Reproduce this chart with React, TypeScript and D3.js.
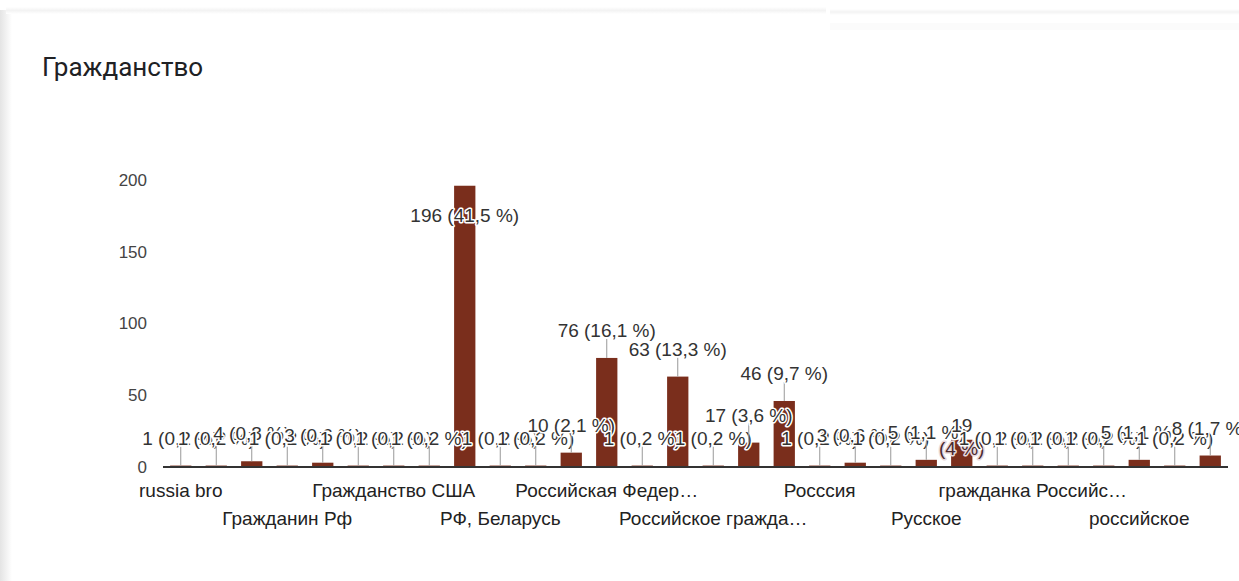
import React from "react";
import * as d3 from "d3";

const TITLE = "Гражданство";

// 30 answer categories (only every third label is drawn on the axis, as in the reference)
const categories: string[] = [
  "russia bro", "категория 2", "категория 3",
  "Гражданин Рф", "категория 5", "категория 6",
  "Гражданство США", "категория 8", "категория 9",
  "РФ, Беларусь", "категория 11", "категория 12",
  "Российская Федерация", "категория 14", "категория 15",
  "Российское гражданство", "категория 17", "категория 18",
  "Росссия", "категория 20", "категория 21",
  "Русское", "категория 23", "категория 24",
  "гражданка Российской Федерации", "категория 26", "категория 27",
  "российское", "категория 29", "категория 30",
];

const counts: number[] = [
  1, 1, 4, 1, 3, 1, 1, 1, 196, 1,
  1, 10, 76, 1, 63, 1, 17, 46, 1, 3,
  1, 5, 19, 1, 1, 1, 1, 5, 1, 8,
];

const yTicks: number[] = [0, 50, 100, 150, 200];

// annotations that the chart wraps onto two lines (category indices)
const wrappedAnnotations: number[] = [22];

const W = 1239;
const H = 581;
const PLOT_LEFT = 163;
const PLOT_RIGHT = 1228;
const BASE_Y = 467;
const TOP_Y = 180;
const BAR_COLOR = "#7a2e1c";
const FONT = "Arial, 'Liberation Sans', sans-serif";
const CAT_FONT = 19;

let measureCtx: CanvasRenderingContext2D | null = null;
function textWidth(s: string, size: number) {
  if (!measureCtx) {
    const c = document.createElement("canvas");
    measureCtx = c.getContext("2d");
  }
  if (!measureCtx) return s.length * size * 0.55;
  measureCtx.font = `${size}px Arial, 'Liberation Sans', sans-serif`;
  return measureCtx.measureText(s).width;
}

function truncate(s: string, size: number, maxW: number) {
  if (textWidth(s, size) <= maxW) return s;
  let t = s;
  while (t.length > 1 && textWidth(t, size) > maxW) t = t.slice(0, -1);
  return t.trimEnd() + "…";
}

export default function App() {
  const total = d3.sum(counts);
  const idx = counts.map((_, i) => i);
  const x = d3
    .scaleBand<number>()
    .domain(idx)
    .range([PLOT_LEFT, PLOT_RIGHT])
    .paddingInner(0.4)
    .paddingOuter(0.2);
  const y = d3.scaleLinear().domain([0, 200]).range([BASE_Y, TOP_Y]);

  const pct = (v: number) => {
    const p = Math.round((v / total) * 1000) / 10;
    const s = Number.isInteger(p) ? String(p) : p.toFixed(1).replace(".", ",");
    return `(${s} %)`;
  };

  const annoProps = {
    textAnchor: "middle" as const,
    fontSize: 19,
    fill: "#333",
    stroke: "#fff",
    strokeWidth: 3,
    strokeLinejoin: "round" as const,
    style: { paintOrder: "stroke" } as React.CSSProperties,
  };

  return (
    <svg
      width={W}
      height={H}
      style={{ position: "absolute", left: 0, top: 0, background: "#fff" }}
      fontFamily={FONT}
    >
      <defs>
        <linearGradient id="leftShadow" x1="0" x2="1" y1="0" y2="0">
          <stop offset="0" stopColor="#e4e4e4" />
          <stop offset="1" stopColor="#ffffff" />
        </linearGradient>
        <linearGradient id="topShadow" x1="0" x2="0" y1="0" y2="1">
          <stop offset="0" stopColor="#ffffff" />
          <stop offset="0.5" stopColor="#f3f3f3" />
          <stop offset="1" stopColor="#ffffff" />
        </linearGradient>
      </defs>
      {/* card edges */}
      <rect x={0} y={10} width={12} height={H - 10} fill="url(#leftShadow)" />
      <rect x={6} y={7} width={820} height={7} fill="url(#topShadow)" />
      <rect x={830} y={9} width={W - 830} height={6} fill="url(#topShadow)" />
      <rect x={830} y={23} width={W - 830} height={7} fill="#fbfbfb" />

      <text x={42} y={76} fontSize={26} fill="#202124" fontFamily="Roboto, Arial, sans-serif">
        {TITLE}
      </text>

      {/* y axis labels */}
      {yTicks.map((t) => (
        <text key={t} x={147} y={y(t)} dy="0.35em" textAnchor="end" fontSize={17} fill="#444">
          {t}
        </text>
      ))}

      {/* bars */}
      {counts.map((v, i) => (
        <rect
          key={i}
          x={x(i)!}
          y={y(v)}
          width={x.bandwidth()}
          height={BASE_Y - y(v)}
          fill={BAR_COLOR}
        />
      ))}

      {/* baseline */}
      <line x1={PLOT_LEFT} x2={PLOT_RIGHT} y1={BASE_Y} y2={BASE_Y} stroke="#333" strokeWidth={2} />

      {/* annotations with stems */}
      {counts.map((v, i) => {
        const cx = x(i)! + x.bandwidth() / 2;
        const top = y(v);
        const inside = top - 30 < TOP_Y;
        if (wrappedAnnotations.includes(i)) {
          return (
            <g key={i}>
              <text x={cx} y={top - 8} {...annoProps}>
                {v}
              </text>
              <text x={cx} y={top + 15} {...annoProps} fill="#4a2a30" stroke="#e8d8dc">
                {pct(v)}
              </text>
            </g>
          );
        }
        const ty = inside ? top + 36 : top - 21;
        return (
          <g key={i}>
            {!inside && (
              <line x1={cx} x2={cx} y1={top} y2={top - 19} stroke="#999" strokeWidth={1} />
            )}
            <text x={cx} y={ty} {...annoProps}>
              {`${v} ${pct(v)}`}
            </text>
          </g>
        );
      })}

      {/* category labels: every third, alternating rows */}
      {categories.map((c, i) => {
        if (i % 3 !== 0) return null;
        const row = (i / 3) % 2;
        const cx = x(i)! + x.bandwidth() / 2;
        return (
          <text
            key={i}
            x={cx}
            y={row === 0 ? 497 : 525}
            textAnchor="middle"
            fontSize={CAT_FONT}
            fill="#222"
          >
            {truncate(c, CAT_FONT, 172)}
          </text>
        );
      })}
    </svg>
  );
}
